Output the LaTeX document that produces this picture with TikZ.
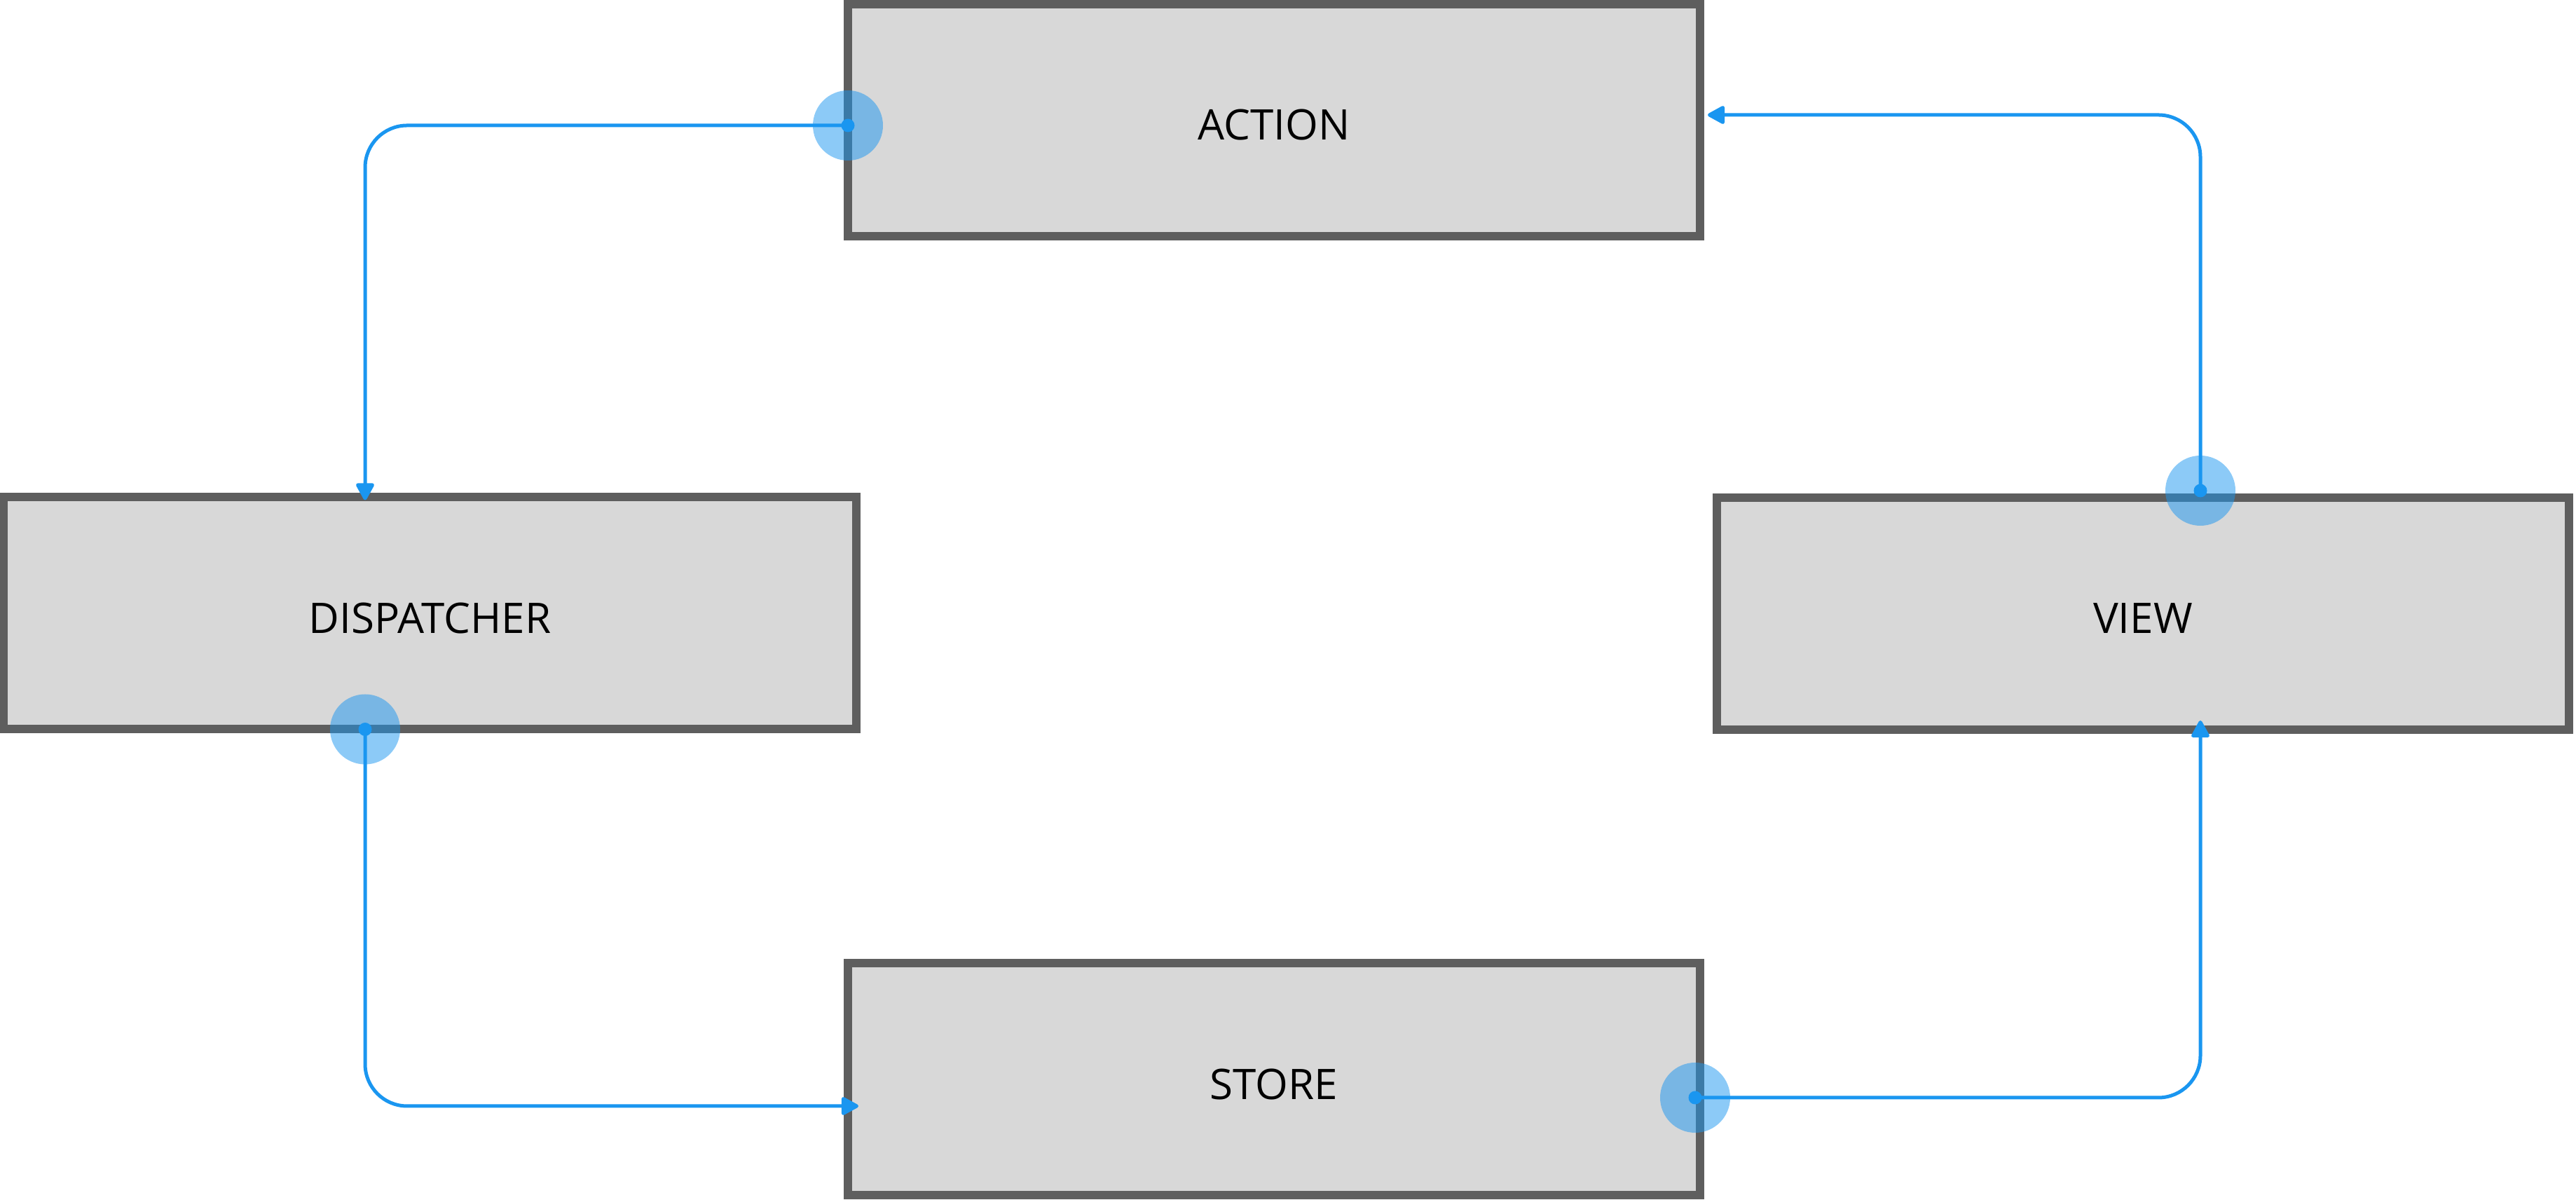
\documentclass[tikz,border=0pt]{standalone}
\usepackage{fontspec}
\setmainfont{Open Sans}
\usetikzlibrary{arrows.meta}
\definecolor{boxfill}{HTML}{D8D8D8}
\definecolor{boxline}{HTML}{5E5E5E}
\definecolor{flowblue}{HTML}{1A96F0}
\tikzset{
    block/.style={draw=boxline, fill=boxfill, line width=0.12cm, minimum width=12.16cm,
        minimum height=3.31cm, inner sep=0pt, outer sep=0pt, text height=0.57cm, text depth=0pt,
        font=\fontsize{17.1}{20}\selectfont},
    flow/.style={draw=flowblue, line width=0.05cm, rounded corners=0.6cm,
        -{Triangle[length=0.27cm, width=0.28cm, round]}},
}
\begin{document}
\begin{tikzpicture}
    \useasboundingbox (0,0) rectangle (36.76,17.12);

    % Boxes
    \node[block] (action) at (18.18,15.405) {ACTION};
    \node[block] (dispatcher) at (6.135,8.37) {DISPATCHER};
    \node[block] (view) at (30.58,8.365) {VIEW};
    \node[block] (store) at (18.18,1.72) {STORE};

    % Ports
    \coordinate (p1) at ([yshift=-0.075cm]action.west);
    \coordinate (p2) at ([xshift=-0.925cm]dispatcher.south);
    \coordinate (p3) at ([xshift=-0.07cm, yshift=-0.26cm]store.east);
    \coordinate (p4) at ([xshift=0.82cm, yshift=0.1cm]view.north);

    % Halos
    \foreach \p in {p1,p2,p3,p4} {
        \fill[flowblue, opacity=0.5] (\p) circle (0.5cm);
    }

    % Arrows
    \draw[flow] (p1) -| ([xshift=-0.925cm, yshift=-0.04cm]dispatcher.north);
    \draw[flow] (p2) |- ([xshift=0.15cm, yshift=-0.38cm]store.west);
    \draw[flow] (p3) -| ([xshift=0.82cm, yshift=0.13cm]view.south);
    \draw[flow] (p4) |- ([xshift=0.11cm, yshift=0.075cm]action.east);

    % Dots
    \foreach \p in {p1,p2,p3,p4} {
        \fill[flowblue] (\p) circle (0.095cm);
    }
\end{tikzpicture}
\end{document}
